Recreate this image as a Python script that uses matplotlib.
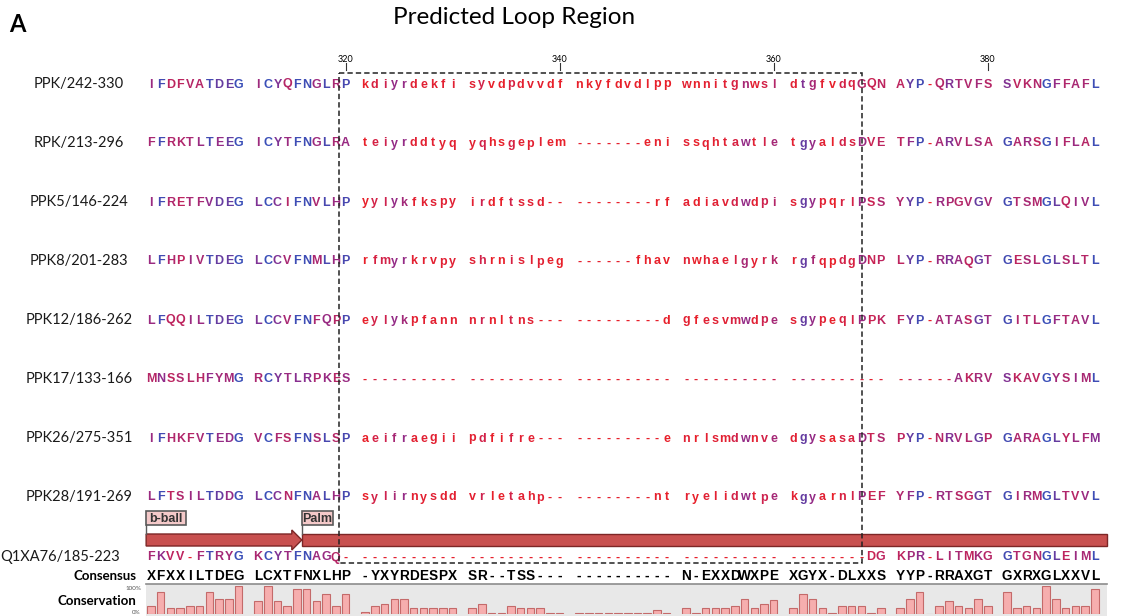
import numpy as np
import matplotlib.pyplot as plt
from matplotlib.colors import LinearSegmentedColormap
from matplotlib.patches import Rectangle, Polygon

# alignment rows (blocks of 10 separated by spaces)
names = ["PPK/242-330", "RPK/213-296", "PPK5/146-224", "PPK8/201-283",
         "PPK12/186-262", "PPK17/133-166", "PPK26/275-351", "PPK28/191-269"]
seqs = [
    "IFDFVATDEG ICYQFNGLRP kdiyrdekfi syvdpdvvdf nkyfdvdlpp wnnitgnwsl dtgfvdqGQN AYP-QRTVFS SVKNGFFAFL",
    "FFRKTLTEEG ICYTFNGLRA teiyrddtyq yqhsgeplem -------eni ssqhtawtle tgyaldsDVE TFP-ARVLSA GARSGIFLAL",
    "IFRETFVDEG LCCIFNVLHP yylykfkspy irdftssd-- --------rf adiavdwdpi sgypqrlPSS YYP-RPGVGV GTSMGLQIVL",
    "LFHPIVTDEG LCCVFNMLHP rfmyrkrvpy shrnislpeg ------fhav nwhaelgyrk rgfqpdgDNP LYP-RRAQGT GESLGLSLTL",
    "LFQQILTDEG LCCVFNFQPP eylykpfann nrnltns--- ---------d gfesvmwdpe sgypeqlPPK FYP-ATASGT GITLGFTAVL",
    "MNSSLHFYMG RCYTLRPKES ---------- ---------- ---------- ---------- ---------- ------AKRV SKAVGYSIML",
    "IFHKFVTEDG VCFSFNSLSP aeifraegii pdfifre--- ---------e nrlsmdwnve dgysasaDTS PYP-NRVLGP GARAGLYLFM",
    "LFTSILTDDG LCCNFNALHP sylirnysdd vrletahp-- --------nt ryelidwtpe kgyarnlPEF YFP-RTSGGT GIRMGLTVVL",
]
ref_name = "Q1XA76/185-223"
ref_seq = "FKVV-FTRYG KCYTFNAGQ- ---------- ---------- ---------- ---------- --------DG KPR-LITMKG GTGNGLEIML"
consensus = "XFXXILTDEG LCXTFNXLHP -YXYRDESPX SR--TSS--- ---------- N-EXXDWXPE XGYX-DLXXS YYP-RRAXGT GXRXGLXXVL"

# conservation (%) per column
conservation = [30, 80, 20, 20, 30, 30, 80, 55, 55, 100,
                45, 100, 45, 30, 90, 90, 45, 70, 30, 70,
                8, 30, 35, 55, 55, 20, 20, 20, 20, 20,
                20, 35, 5, 5, 30, 20, 20, 20, 5, 5,
                5, 5, 5, 5, 5, 5, 5, 5, 15, 5,
                20, 5, 20, 20, 20, 30, 55, 20, 35, 50,
                20, 70, 55, 20, 5, 30, 30, 30, 5, 20,
                20, 55, 80, 0, 30, 45, 30, 20, 55, 30,
                80, 20, 30, 20, 100, 55, 20, 30, 30, 90]

ruler_labels = [320, 340, 360, 380]
first_position = 301
loop_cols = (19, 67)
b_ball_cols = (0, 14)
palm_start_col = 15

# layout (pixels)
X0, PITCH = 151, 9.73
PANEL_L, PANEL_R = 146, 1107
row_y = [83 + 59 * k for k in range(len(seqs))]
REF_Y, CONS_Y = 556, 575


def col_x(i):
    return X0 + (i + i // 10) * PITCH


rows = [s.replace(" ", "") for s in seqs] + [ref_seq.replace(" ", "")]
cons_seq = consensus.replace(" ", "")
ncol = len(rows[0])
nrow = len(rows)

cmap = LinearSegmentedColormap.from_list(
    "rb", ["#e8202a", "#cc2250", "#8e2c8c", "#4548b0", "#3a4fb8"])


def residue_color(r, i):
    ch = rows[r][i]
    cons = conservation[i] / 100
    if ch == "-":
        return cmap(0.5 * cons if r % 2 else 0.1 * cons)
    same = sum(1 for row in rows if row[i].upper() == ch.upper())
    ident = (same - 1) / (nrow - 1)
    if ch.islower():
        return cmap(min(1.0, 1.0 * max(0.0, cons - 0.15) + 0.15 * ident))
    return cmap(0.25 + 0.45 * ident + 0.3 * cons)


fig = plt.figure(figsize=(11.23, 6.16), dpi=100)
ax = fig.add_axes([0, 0, 1, 1])
ax.set_xlim(0, 1123)
ax.set_ylim(616, 0)
ax.axis("off")

seq_font = dict(family="Liberation Sans", weight="bold", fontsize=9)
lab_font = dict(family="Lato", fontsize=10.5, color="#1a1a1a")

ax.text(514, 17, "Predicted Loop Region", family="Lato", fontsize=17.5,
        ha="center", va="center")
ax.text(9, 24, "A", family="Lato", weight="bold", fontsize=17, va="center")

# ruler
for lab in ruler_labels:
    cx = col_x(lab - first_position)
    ax.text(cx, 59, str(lab), family="Lato", fontsize=6.5, ha="center", va="center")
    ax.plot([cx, cx], [63, 70], color="#333333", lw=0.8)

# sequences
for r in range(nrow):
    y = row_y[r] if r < len(seqs) else REF_Y
    for i in range(ncol):
        ax.text(col_x(i), y + 4.5, rows[r][i], color=residue_color(r, i),
                ha="center", va="baseline", **seq_font)

for name, y in zip(names, row_y):
    ax.text(79, y + 5.2, name, ha="center", va="baseline", **lab_font)
ax.text(0, REF_Y + 5.2, ref_name, ha="left", va="baseline", **lab_font)

# consensus
for i, ch in enumerate(cons_seq):
    ax.text(col_x(i), CONS_Y + 4.8, ch, color="black", ha="center",
            va="baseline", family="Liberation Sans", weight="bold", fontsize=9.8)
ax.text(136, CONS_Y + 4.7, "Consensus", family="Lato", weight="bold",
        fontsize=9.5, ha="right", va="baseline")

# annotation track
half = PITCH / 2
bx0, bx1 = col_x(b_ball_cols[0]) - half, col_x(b_ball_cols[1]) + half
arrow = Polygon([(bx0, 534), (bx1 - 10, 534), (bx1 - 10, 530), (bx1, 540),
                 (bx1 - 10, 550), (bx1 - 10, 546), (bx0, 546)],
                closed=True, fc="#c8504f", ec="#7c2626", lw=1)
ax.add_patch(arrow)
px0 = col_x(palm_start_col) - half
ax.add_patch(Rectangle((px0, 534), PANEL_R - px0, 12, fc="#c8504f",
                       ec="#7c2626", lw=1))
for x0, w, lab in [(bx0, 40, "b-ball"), (px0, 31, "Palm")]:
    ax.add_patch(Rectangle((x0, 511), w, 14, fc="#f4c9c9", ec="#5a5a5a", lw=1.2))
    ax.plot([x0, x0], [525, 534], color="#5a5a5a", lw=1)
    ax.text(x0 + w / 2, 522.5, lab, family="Liberation Sans", weight="bold",
            fontsize=9, color="#333333", ha="center", va="baseline")

# predicted loop box
lx0 = col_x(loop_cols[0]) - 0.7 * PITCH
lx1 = col_x(loop_cols[1]) + 0.1 * PITCH
ax.add_patch(Rectangle((lx0, 73), lx1 - lx0, 563 - 73, fill=False,
                       ec="#222222", lw=1.1, ls=(0, (3.5, 2)), zorder=5))

# conservation track
ax.add_patch(Rectangle((PANEL_L, 584), PANEL_R - PANEL_L, 40, fc="#e8e8e8",
                       ec="none"))
ax.plot([PANEL_L, PANEL_R], [584, 584], color="#8c8c8c", lw=1.2)
ax.text(136, 605, "Conservation", family="Lato", weight="bold", fontsize=9.5,
        ha="right", va="baseline")
ax.text(141, 589, "100%", family="Lato", fontsize=4.5, color="#555555",
        ha="right", va="center")
ax.text(141, 612, "0%", family="Lato", fontsize=4.5, color="#555555",
        ha="right", va="center")

ax2 = fig.add_axes([0, 2 / 616, 1, 28 / 616])
ax2.set_xlim(0, 1123)
ax2.set_ylim(0, 100)
ax2.axis("off")
ax2.bar([col_x(i) for i in range(ncol)], conservation, width=7.5,
        color="#f6aeae", edgecolor="#c46a6a", linewidth=0.8)

fig.savefig("out.png", dpi=100)
